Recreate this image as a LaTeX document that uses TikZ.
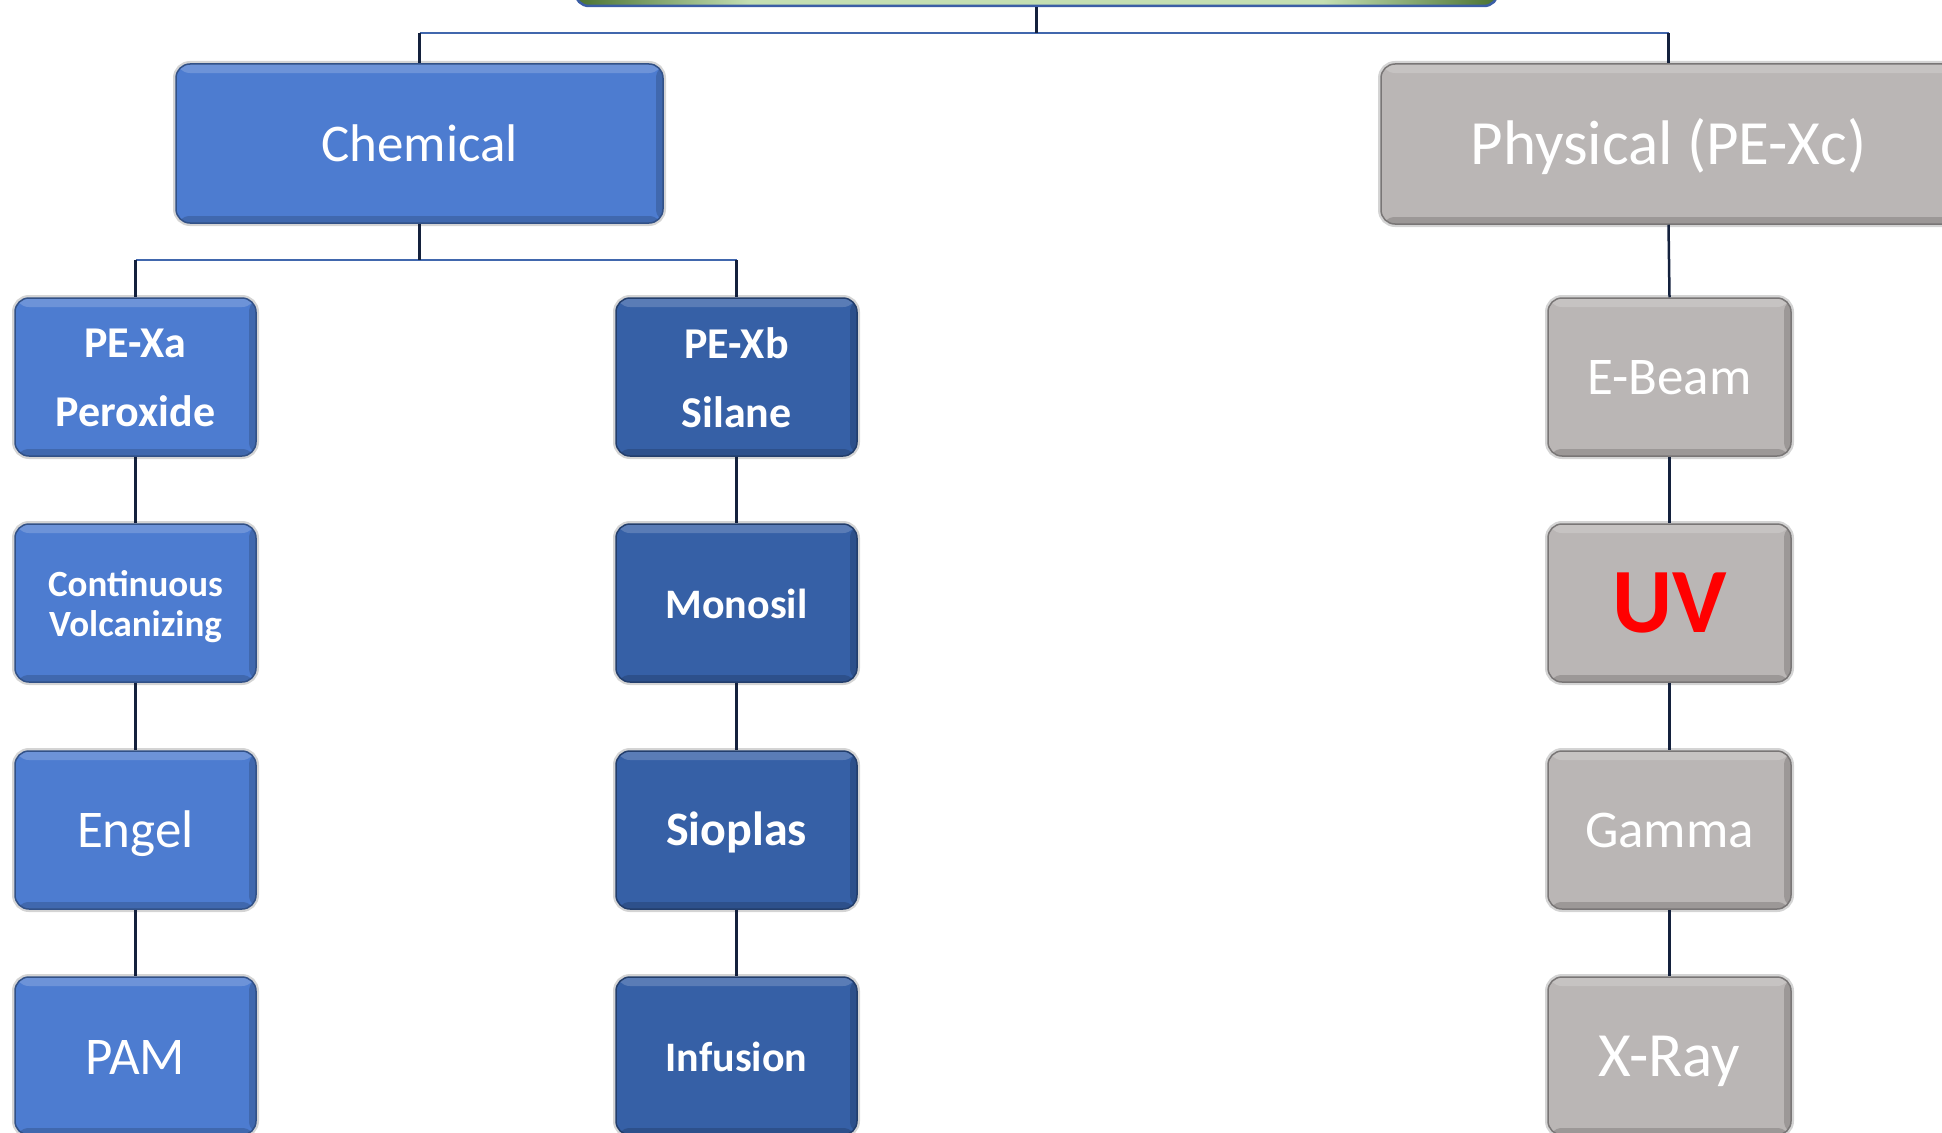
\documentclass[tikz,border=0pt]{standalone}
\usepackage{fontspec}
\setmainfont{Carlito}
\definecolor{blueA}{HTML}{4D7CD0}
\definecolor{blueB}{HTML}{3660A6}
\definecolor{grayC}{HTML}{BAB6B5}
\definecolor{vline}{HTML}{14213D}
\definecolor{hline}{HTML}{4167AD}
\definecolor{dkgreen}{HTML}{4A7232}
\definecolor{ltgreen}{HTML}{C4DFB2}
\definecolor{rimblue}{HTML}{3B5EA6}
\pgfdeclarehorizontalshading{greenbar}{100bp}{color(0bp)=(dkgreen); color(25bp)=(dkgreen); color(34.5bp)=(ltgreen); color(65.5bp)=(ltgreen); color(75bp)=(dkgreen); color(100bp)=(dkgreen)}
\newcommand\lw[2]{\raisebox{-#1}[\height][\depth]{#2}}
\tikzset{
  box/.style={rounded corners=14pt, inner sep=0pt, text=white, align=center,
    fill=#1, draw=#1!65!black, line width=1.5pt,
    preaction={draw=black!17, line width=6pt},
    path picture={
      \fill[white,opacity=.18] (path picture bounding box.north west) rectangle ([yshift=-9pt]path picture bounding box.north east);
      \fill[black,opacity=.16] ([xshift=-7pt]path picture bounding box.north east) rectangle (path picture bounding box.south east);
      \fill[black,opacity=.16] ([yshift=7pt]path picture bounding box.south west) rectangle (path picture bounding box.south east);
    }},
  small/.style={box=#1, minimum width=241pt, minimum height=158pt},
  vl/.style={draw=vline, line width=2.5pt},
  hl/.style={draw=hline, line width=2.5pt},
  regtext/.style={font=\fontsize{53}{60}\selectfont},
  boldtext/.style={font=\bfseries\fontsize{42}{50}\selectfont},
}
\begin{document}
\begin{tikzpicture}[x=1pt,y=-1pt]
\useasboundingbox (0,0) rectangle (1942,1132);
\clip (0,0) rectangle (1942,1132);
% top box
\node[rounded corners=14pt, shading=greenbar, draw=rimblue, line width=2.5pt,
  minimum width=923pt, minimum height=90pt, inner sep=0pt] (top) at (1036.5,-39) {};
% level 1
\node[box=blueA, minimum width=487pt, minimum height=159pt, regtext] (chem) at (419.5,143.5) {Chemical};
\node[box=grayC, minimum width=575pt, minimum height=160pt, font=\fontsize{63}{70}\selectfont] (phys) at (1668.5,144) {\lw{2.5pt}{Physical (PE-Xc)}};
% column 1
\node[small=blueA, font=\bfseries\fontsize{44}{69}\selectfont] (a1) at (135.5,377) {\lw{1pt}{PE-Xa}\\\lw{1pt}{Peroxide}};
\node[small=blueA, font=\bfseries\fontsize{37}{40}\selectfont] (a2) at (135.5,603) {\lw{4pt}{Continuous}\\\lw{4pt}{Volcanizing}};
\node[small=blueA, regtext] (a3) at (135.5,830) {\lw{4pt}{Engel}};
\node[small=blueA, regtext] (a4) at (135.5,1056) {\lw{1pt}{PAM}};
% column 2
\node[small=blueB, font=\bfseries\fontsize{44}{69}\selectfont] (b1) at (736.5,377) {\lw{1pt}{PE-Xb}\\\lw{1pt}{Silane}};
\node[small=blueB, boldtext] (b2) at (736.5,603) {\lw{1pt}{Monosil}};
\node[small=blueB, font=\bfseries\fontsize{48}{55}\selectfont] (b3) at (736.5,830) {\lw{2.5pt}{Sioplas}};
\node[small=blueB, boldtext] (b4) at (736.5,1056) {\lw{1pt}{Infusion}};
% column 3
\node[small=grayC, minimum width=243pt, regtext] (c1) at (1669.5,377) {\lw{1pt}{E-Beam}};
\node[small=grayC, minimum width=243pt, font=\bfseries\fontsize{92}{100}\selectfont, text=red] (c2) at (1669.5,603) {UV};
\node[small=grayC, minimum width=243pt, regtext] (c3) at (1669.5,830) {Gamma};
\node[small=grayC, minimum width=243pt, font=\fontsize{63}{70}\selectfont] (c4) at (1669.5,1056) {\lw{5pt}{X-Ray}};
% connectors
\coordinate (tj) at (1036.5,33);
\coordinate (cj) at (419.5,260);
\draw[hl] (chem.north |- tj) -- (phys.north |- tj);
\draw[vl] (top.south) -- (tj);
\draw[vl] (chem.north |- tj) -- (chem.north);
\draw[vl] (phys.north |- tj) -- (phys.north);
\draw[hl] (a1.north |- cj) -- (b1.north |- cj);
\draw[vl] (chem.south) -- (cj);
\draw[vl] (a1.north |- cj) -- (a1.north);
\draw[vl] (b1.north |- cj) -- (b1.north);
\draw[vl] (phys.south) -- (c1.north);
\draw[vl] (a1) -- (a2); \draw[vl] (a2) -- (a3); \draw[vl] (a3) -- (a4);
\draw[vl] (b1) -- (b2); \draw[vl] (b2) -- (b3); \draw[vl] (b3) -- (b4);
\draw[vl] (c1) -- (c2); \draw[vl] (c2) -- (c3); \draw[vl] (c3) -- (c4);
\end{tikzpicture}
\end{document}
